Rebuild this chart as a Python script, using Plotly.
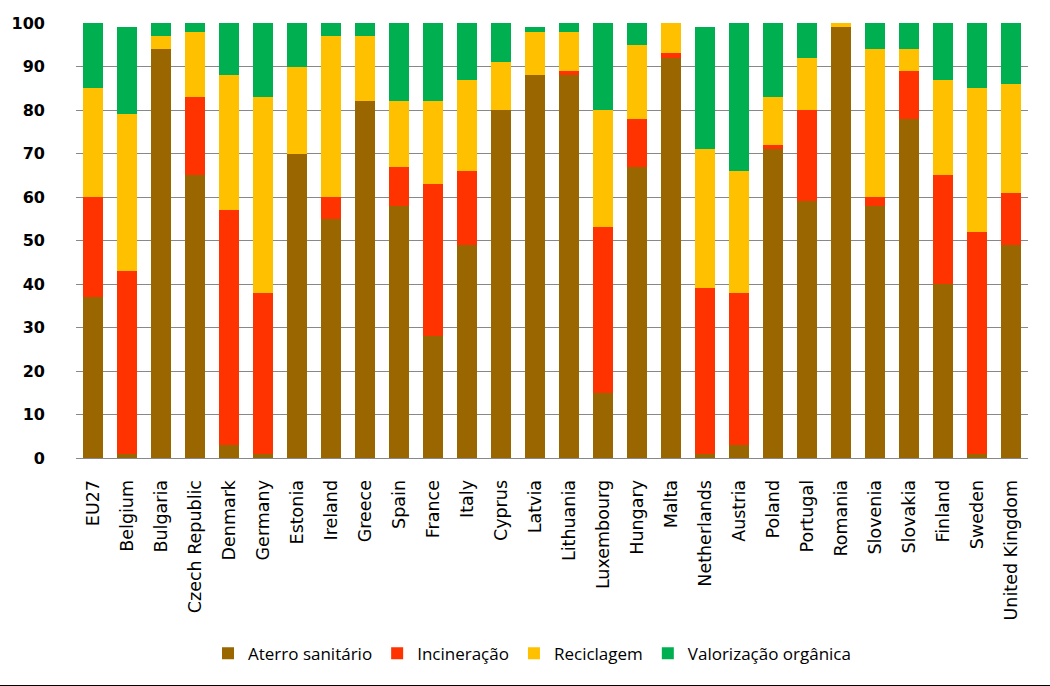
import plotly.graph_objects as go

countries = ["EU27", "Belgium", "Bulgaria", "Czech Republic", "Denmark", "Germany", "Estonia",
             "Ireland", "Greece", "Spain", "France", "Italy", "Cyprus", "Latvia", "Lithuania",
             "Luxembourg", "Hungary", "Malta", "Netherlands", "Austria", "Poland", "Portugal",
             "Romania", "Slovenia", "Slovakia", "Finland", "Sweden", "United Kingdom"]

aterro = [37, 1, 94, 65, 3, 1, 70, 55, 82, 58, 28, 49, 80, 88, 88, 15, 67, 92, 1, 3, 71, 59, 99, 58, 78, 40, 1, 49]
incineracao = [23, 42, 0, 18, 54, 37, 0, 5, 0, 9, 35, 17, 0, 0, 1, 38, 11, 1, 38, 35, 1, 21, 0, 2, 11, 25, 51, 12]
reciclagem = [25, 36, 3, 15, 31, 45, 20, 37, 15, 15, 19, 21, 11, 10, 9, 27, 17, 7, 32, 28, 11, 12, 1, 34, 5, 22, 33, 25]
valorizacao = [15, 20, 3, 2, 12, 17, 10, 3, 3, 18, 18, 13, 9, 1, 2, 20, 5, 0, 28, 34, 17, 8, 0, 6, 6, 13, 15, 14]

series = [
    ("Aterro sanitário", aterro, "#996600"),
    ("Incineração", incineracao, "#FF3300"),
    ("Reciclagem", reciclagem, "#FFC000"),
    ("Valorização orgânica", valorizacao, "#00B050"),
]

fig = go.Figure()
for name, vals, color in series:
    fig.add_trace(go.Bar(x=countries, y=vals, name=name, marker=dict(color=color, line=dict(width=0))))

fig.update_layout(
    barmode="stack",
    bargap=0.42,
    width=1050, height=686,
    margin=dict(l=69, r=22, t=23, b=228),
    plot_bgcolor="white", paper_bgcolor="white",
    showlegend=True,
    legend=dict(orientation="h", x=0.479, xanchor="center", y=-0.45, yanchor="middle",
                font=dict(family="Open Sans", size=17, color="black"),
                itemwidth=30, traceorder="normal"),
    shapes=[dict(type="line", xref="paper", yref="paper", x0=-0.08, x1=1.03, y0=-0.524, y1=-0.524,
                 line=dict(color="black", width=2))],
)
fig.update_yaxes(range=[0, 100], dtick=10, showgrid=True, gridcolor="#888888", gridwidth=1,
                 zeroline=False, showline=False, ticks="", ticklabelstandoff=30,
                 tickfont=dict(family="DejaVu Sans", size=16, color="black", weight="bold"))
fig.update_xaxes(showline=True, linecolor="#888888", linewidth=1, tickangle=-90, ticks="",
                 ticklabelstandoff=14,
                 tickfont=dict(family="DejaVu Sans", size=17.5, color="black"))

fig.write_html("out.html")
